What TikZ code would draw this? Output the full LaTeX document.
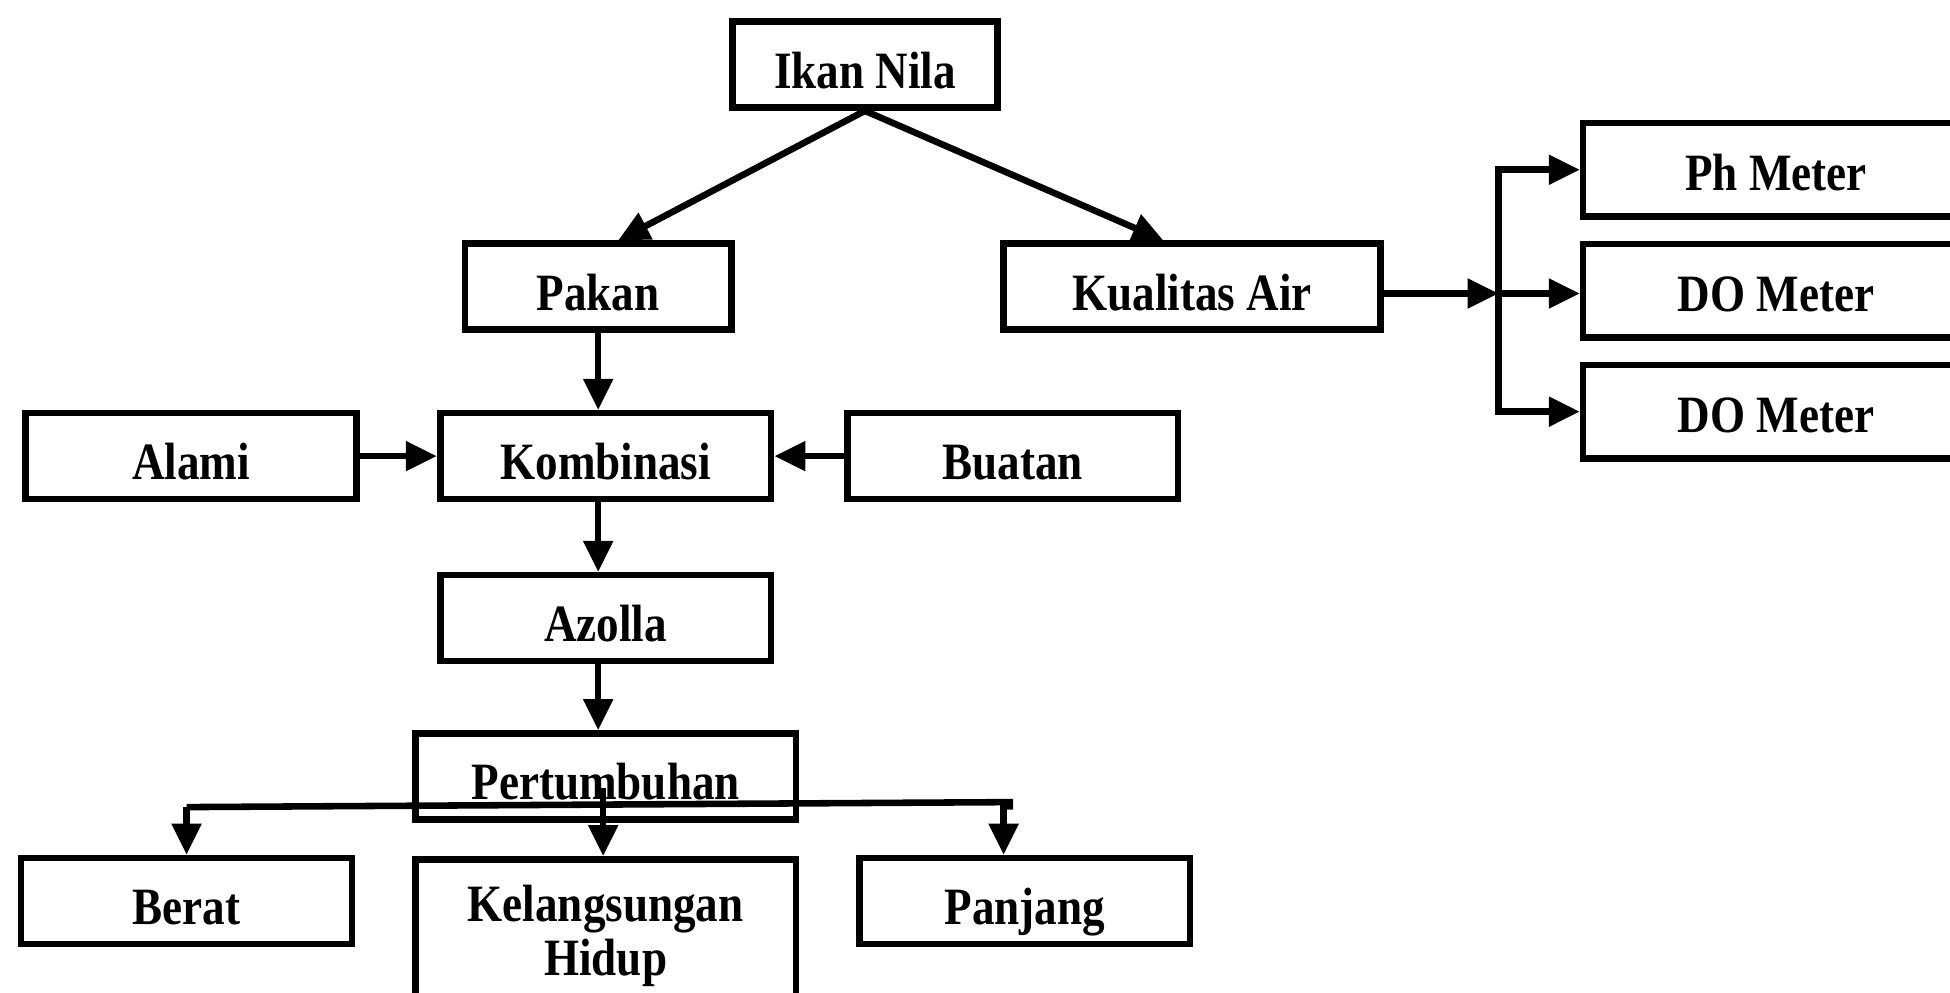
\documentclass[tikz,border=0pt]{standalone}
\usepackage{fontspec}
\setmainfont{Liberation Serif}[FakeStretch=0.86]
\usetikzlibrary{positioning, arrows.meta}
\tikzstyle{box} = [rectangle, draw=black, line width=1.5pt, minimum width=2.66cm, minimum height=0.69cm, inner ysep=1pt, text centered, font=\fontsize{12}{12.4}\selectfont\bfseries]
\tikzstyle{block} = [box, text height=13.2pt, text depth=2.5pt]
\tikzstyle{meter} = [block, minimum width=3.1cm, minimum height=0.75cm, text height=12.2pt]
\tikzstyle{arrow} = [line width=1.5pt, -{Triangle[length=0.25cm,width=0.23cm]}]
\tikzstyle{line} = [line width=1.5pt]

\begin{document}
\begin{tikzpicture}
\useasboundingbox (0,0) rectangle (15.68,-7.98);
  % Define the blocks
\node (ikan) [block, minimum width=2.13cm] at (6.955,-0.52) {Ikan Nila};
\node (pakan) [block, minimum width=2.14cm] at (4.81,-2.305) {Pakan};
\node (kualitas) [block, minimum width=3.03cm] at (9.585,-2.305) {Kualitas Air};
\node (kombinasi) [block, below=0.62cm of pakan, xshift=0.06cm] {Kombinasi};
\node (alami) [block, left=0.62cm of kombinasi] {Alami};
\node (buatan) [block, right=0.56cm of kombinasi] {Buatan};
\node (azolla) [block, below=0.56cm of kombinasi] {Azolla};
\node (tumbuh) [block, minimum width=3.06cm, below=0.53cm of azolla] {Pertumbuhan};
\node (hidup) [box, minimum width=3.06cm, minimum height=1.23cm, align=center, below=0.27cm of tumbuh] {Kelangsungan\\Hidup};
\node (berat) [block] at (1.50,-7.245) {Berat};
\node (panjang) [block] at (8.24,-7.245) {Panjang};
\node (ph) [meter] at (14.28,-1.365) {Ph Meter};
\node (do1) [meter, below=0.17cm of ph] {DO Meter};
\node (do2) [meter, below=0.17cm of do1] {DO Meter};

\coordinate (split) at (12.05,-2.36);
\coordinate (busL) at (1.50,-6.49);
\coordinate (busP) at (8.07,-6.455);
\coordinate (busR) at (8.12,-6.45);

% Draw the arrows
\draw [arrow] (ikan.south) -- ([xshift=0.16cm]pakan.north);
\draw [arrow] (ikan.south) -- ([xshift=-0.23cm]kualitas.north);
\draw [arrow] (pakan.south) -- (pakan.south |- kombinasi.north);
\draw [arrow] (alami) -- (kombinasi);
\draw [arrow] (buatan) -- (kombinasi);
\draw [arrow] ([xshift=-0.06cm]kombinasi.south) -- ([xshift=-0.06cm]azolla.north);
\draw [arrow] ([xshift=-0.06cm]azolla.south) -- ([xshift=-0.06cm]tumbuh.north);
\draw [arrow] (kualitas.east |- split) -- (split);
\draw [arrow] (split) |- (ph.west);
\draw [arrow] (split) -- (split -| do1.west);
\draw [arrow] (split) |- (do2.west);
\draw [line] (busL) -- (busR) -- ++(0,-0.06);
\draw [arrow] (busL) -- (berat.north);
\draw [arrow] ([xshift=-0.02cm,yshift=-0.09cm]tumbuh.center) -- ([xshift=-0.02cm]hidup.north);
\draw [arrow] (busP) -- (busP |- panjang.north);

\end{tikzpicture}
\end{document}
